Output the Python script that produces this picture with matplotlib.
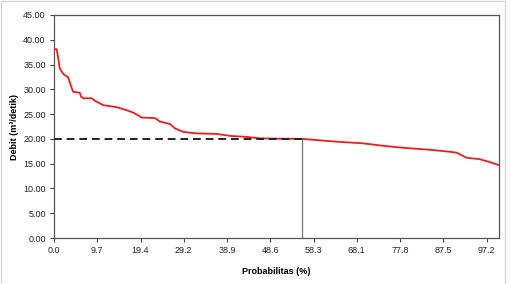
import matplotlib.pyplot as plt
from matplotlib.patches import Rectangle

plt.rcParams['font.family'] = ['Liberation Sans', 'DejaVu Sans']

# flow duration curve
prob = [0.0, 0.6, 1.0, 1.3, 2.1, 3.2, 3.7, 4.3, 5.8, 6.1, 6.6, 8.5, 9.0, 9.6,
        11.1, 14.1, 16.3, 17.8, 19.0, 19.7, 22.7, 23.8, 26.1, 27.2, 29.1,
        32.1, 36.6, 39.6, 43.3, 46.3, 50.0, 55.8, 59.8, 64.0, 69.5, 74.0,
        78.5, 84.5, 89.0, 90.5, 91.2, 92.7, 95.7, 98.0, 100.0]
debit = [38.1, 38.1, 36.0, 34.2, 33.1, 32.4, 31.0, 29.5, 29.3, 28.5, 28.2,
         28.2, 27.8, 27.5, 26.8, 26.4, 25.8, 25.3, 24.7, 24.3, 24.2, 23.5,
         23.0, 22.1, 21.4, 21.1, 21.0, 20.6, 20.4, 20.1, 20.05, 20.0, 19.7,
         19.4, 19.1, 18.6, 18.2, 17.8, 17.4, 17.2, 16.9, 16.2, 15.9, 15.3,
         14.7]

x_ticks = [0.0, 9.72, 19.44, 29.16, 38.88, 48.6, 58.32, 68.04, 77.76, 87.48, 97.2]
x_labels = ['0.0', '9.7', '19.4', '29.2', '38.9', '48.6', '58.3', '68.1', '77.8', '87.5', '97.2']
y_ticks = [0, 5, 10, 15, 20, 25, 30, 35, 40, 45]

q_ref = 20.0
p_ref = 55.8

fig = plt.figure(figsize=(5.11, 2.84), dpi=100)
ax = fig.add_axes([54 / 511, 1 - 238 / 284, 445 / 511, 223 / 284])

# chart area border
fig.patches.append(Rectangle((0.001, 0.001), 504 / 511, 0.997, transform=fig.transFigure,
                             fill=False, edgecolor='#d0d0d0', linewidth=0.8))

ax.plot(prob, debit, color='#ee1c1c', linewidth=1.3, zorder=3)
ax.plot([0, p_ref], [q_ref, q_ref], color='#222222', linestyle=(0, (4, 2.5)),
        linewidth=1.4, zorder=4)
ax.plot([p_ref, p_ref], [0, q_ref], color='#777777', linewidth=0.9, zorder=2)

ax.set_xlim(0, 100)
ax.set_ylim(0, 45)
ax.set_xticks(x_ticks)
ax.set_xticklabels(x_labels)
ax.set_yticks(y_ticks)
ax.set_yticklabels(['%.2f' % v for v in y_ticks])
ax.tick_params(labelsize=6.5, length=3, width=0.8, color='#444444', labelcolor='#222222', pad=3)

for s in ax.spines.values():
    s.set_color('#555555')
    s.set_linewidth(0.9)

ax.set_xlabel('Probabilitas (%)', fontsize=6.5, fontweight='bold')
ax.xaxis.set_label_coords(0.5, -0.13)
ax.set_ylabel('Debit (m\u00b3/detik)', fontsize=6.5, fontweight='bold')
ax.yaxis.set_label_coords(-0.078, 0.5)

fig.savefig('out.png', dpi=100)
